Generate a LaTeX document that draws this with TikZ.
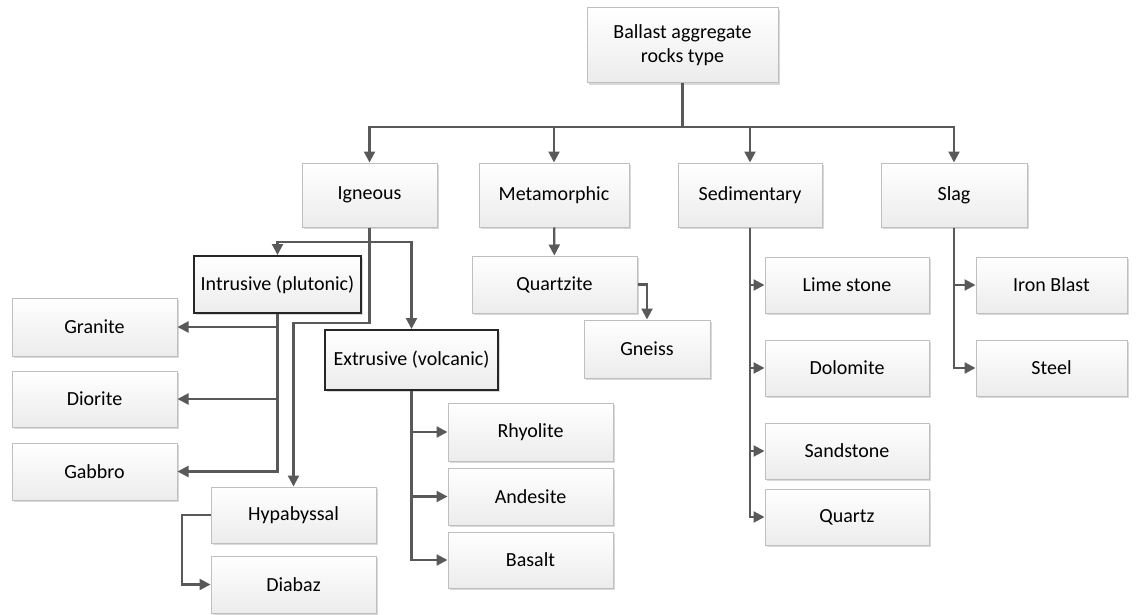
\documentclass[tikz,border=0pt]{standalone}
\usepackage{fontspec}
\setmainfont{Carlito}
\usetikzlibrary{arrows.meta,shadows}

\begin{document}
\begin{tikzpicture}[x=1pt,y=-1pt, % 1 unité = 1 px de l'image
  boite/.style={draw=gray!50, line width=1pt, top color=white, bottom color=gray!15,
    drop shadow={shadow xshift=2pt,shadow yshift=-2pt,opacity=0.3},
    minimum height=57pt, inner sep=2pt, align=center,
    font=\fontsize{20}{24}\selectfont, text=black},
  boitenoire/.style={boite, draw=black!85, line width=2pt},
  lien/.style={draw=black!65, line width=2.2pt, -{Triangle[length=11pt,width=11pt]}}]

% --------- PARAMÈTRES ----------
\def\ybus{127}    % barre horizontale sous la racine
\def\yrang{195}   % centre des quatre familles
\def\hrang{64}    % hauteur des boîtes des familles
% --------------------------------

\useasboundingbox (0,0) rectangle (1137,615);

% Racine
\node[boite, minimum width=191pt, minimum height=75pt] (racine) at (682.5,45.5) {Ballast aggregate\\rocks type};

% Familles
\node[boite, minimum width=135pt, minimum height=\hrang] (ign) at (369.5,\yrang) {Igneous};
\node[boite, minimum width=150pt, minimum height=\hrang] (met) at (554,\yrang) {Metamorphic};
\node[boite, minimum width=144pt, minimum height=\hrang] (sed) at (750,\yrang) {Sedimentary};
\node[boite, minimum width=146pt, minimum height=\hrang] (slag) at (954,\yrang) {Slag};

% Igneous
\node[boitenoire, minimum width=167pt] (intr) at (277.5,284.5) {Intrusive (plutonic)};
\node[boitenoire, minimum width=173pt, minimum height=60pt] (extr) at (411.5,360) {Extrusive (volcanic)};
\node[boite, minimum width=165pt, minimum height=58pt] (gran) at (94.5,327) {Granite};
\node[boite, minimum width=165pt, minimum height=56pt] (dior) at (94.5,399) {Diorite};
\node[boite, minimum width=165pt] (gab) at (94.5,471.5) {Gabbro};
\node[boite, minimum width=165pt, minimum height=56pt] (hyp) at (293.5,515) {Hypabyssal};
\node[boite, minimum width=165pt] (diab) at (293.5,584.5) {Diabaz};
\node[boite, minimum width=165pt, minimum height=58pt] (rhy) at (530.5,432) {Rhyolite};
\node[boite, minimum width=165pt] (and) at (530.5,496.5) {Andesite};
\node[boite, minimum width=165pt, minimum height=56pt] (bas) at (530.5,560) {Basalt};

% Metamorphic
\node[boite, minimum width=165pt] (qzite) at (554.5,284.5) {Quartzite};
\node[boite, minimum width=126pt, minimum height=58pt] (gneiss) at (647,349) {Gneiss};

% Sedimentary
\node[boite, minimum width=164pt, minimum height=56pt] (lime) at (847,285) {Lime stone};
\node[boite, minimum width=164pt, minimum height=56pt] (dol) at (847,368) {Dolomite};
\node[boite, minimum width=164pt, minimum height=56pt] (sand) at (847,451) {Sandstone};
\node[boite, minimum width=164pt, minimum height=56pt] (qtz) at (847,517) {Quartz};

% Slag
\node[boite, minimum width=151pt, minimum height=56pt] (iron) at (1051.5,285) {Iron Blast};
\node[boite, minimum width=151pt, minimum height=56pt] (steel) at (1051.5,368) {Steel};

% Liens racine -> familles
\coordinate (bus) at (0,\ybus);
\foreach \fils in {ign,met,sed,slag}
  \draw[lien] (racine) |- (bus -| \fils) -- (\fils);

% Liens Igneous
\coordinate (igA) at (369.5,242); % fourche intrusive / extrusive
\coordinate (igB) at (369.5,323); % coude vers hypabyssal
\draw[lien] (ign) -- (igA) -| (intr);
\draw[lien] (ign) -- (igA) -| (extr);
\draw[lien] (ign) -- (igB) -| (hyp);
\foreach \fils in {gran,dior,gab}
  \draw[lien] (intr) |- (\fils);
\foreach \fils in {rhy,and,bas}
  \draw[lien] (extr) |- (\fils);
\coordinate (hypG) at (182,515);
\draw[lien] (hyp) -- (hypG) |- (diab);

% Liens Metamorphic
\draw[lien] (met) -- (qzite);
\draw[lien] (qzite) -| (gneiss);

% Liens Sedimentary et Slag
\foreach \fils in {lime,dol,sand,qtz}
  \draw[lien] (sed) |- (\fils);
\foreach \fils in {iron,steel}
  \draw[lien] (slag) |- (\fils);

\end{tikzpicture}
\end{document}
